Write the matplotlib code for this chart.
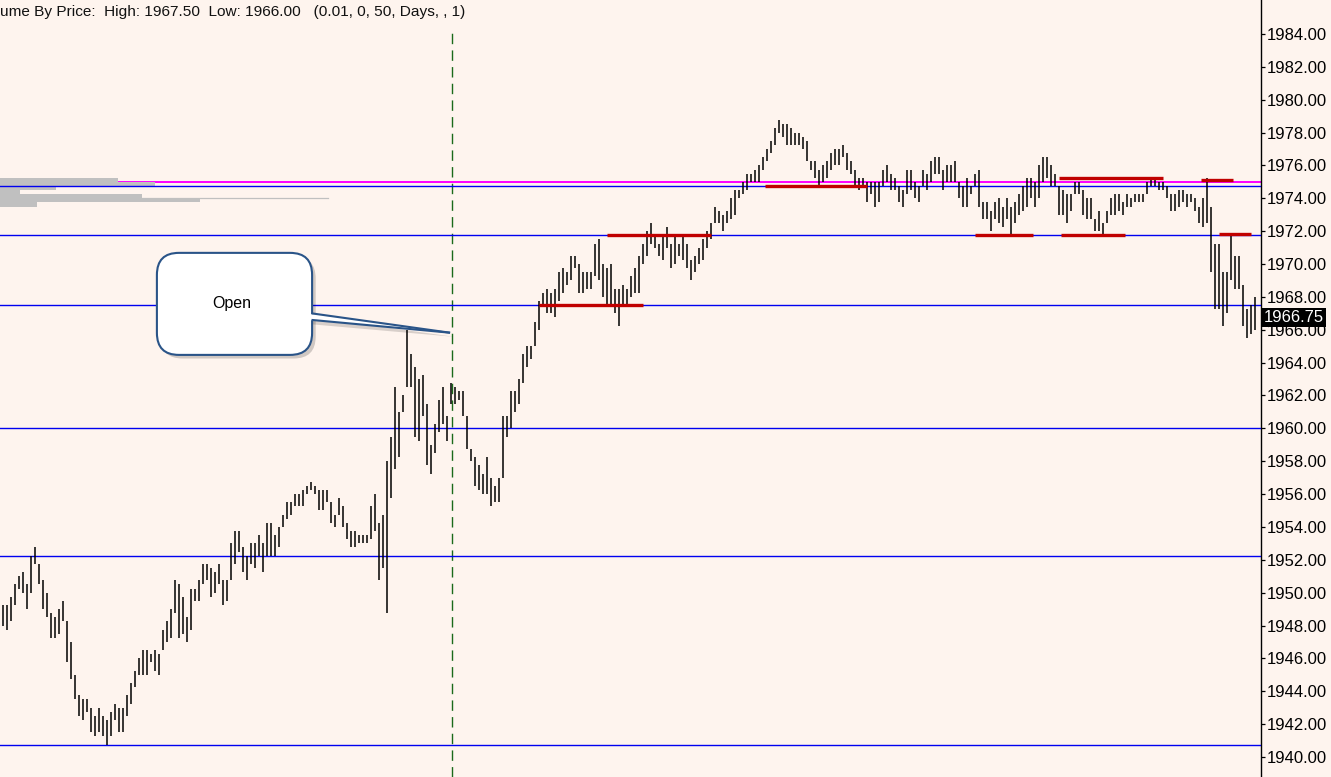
import numpy as np
import matplotlib
matplotlib.use('Agg')
import matplotlib.pyplot as plt
from matplotlib.patches import FancyBboxPatch, Polygon, Rectangle

plt.rcParams['font.family'] = ['Liberation Sans', 'DejaVu Sans']

# ---- price bars (high / low), one per bar, left to right ----
highs = [
    1949.25, 1949.25, 1949.75, 1950.50, 1951.00, 1951.25, 1950.50, 1952.25, 1952.75, 1951.75,
    1950.75, 1950.00, 1948.75, 1948.50, 1949.00, 1949.50, 1948.25, 1947.00, 1945.00, 1943.75,
    1943.50, 1943.50, 1943.00, 1942.50, 1943.00, 1942.50, 1942.25, 1942.75, 1943.25, 1943.00,
    1943.00, 1943.75, 1944.50, 1945.25, 1946.00, 1946.50, 1946.50, 1946.25, 1946.50, 1946.25,
    1947.75, 1948.25, 1949.00, 1950.75, 1950.50, 1949.75, 1948.50, 1950.25, 1950.25, 1950.75,
    1951.75, 1951.75, 1951.50, 1951.25, 1951.75, 1950.75, 1950.75, 1953.00, 1953.75, 1953.75,
    1952.75, 1952.25, 1953.00, 1953.00, 1953.50, 1953.00, 1954.25, 1954.25, 1953.50, 1954.00,
    1954.75, 1955.50, 1955.50, 1956.00, 1956.00, 1956.25, 1956.50, 1956.75, 1956.50, 1956.25,
    1956.25, 1956.25, 1955.50, 1954.75, 1955.75, 1955.25, 1954.25, 1953.75, 1953.75, 1953.50,
    1953.50, 1953.50, 1955.25, 1956.00, 1954.25, 1954.75, 1958.00, 1959.50, 1962.50, 1961.00,
    1962.00, 1966.00, 1964.50, 1963.75, 1963.00, 1963.25, 1961.50, 1959.00, 1960.25, 1961.75,
    1962.50, 1960.75, 1962.75, 1962.50, 1962.25, 1962.25, 1960.75, 1958.75, 1958.25, 1957.75,
    1957.25, 1958.25, 1957.00, 1956.50, 1957.00, 1960.75, 1960.75, 1962.25, 1962.25, 1963.00,
    1964.50, 1965.00, 1965.00, 1966.50, 1967.75, 1968.25, 1968.50, 1968.25, 1968.50, 1969.50,
    1969.75, 1969.50, 1970.50, 1970.50, 1970.00, 1969.50, 1969.50, 1969.50, 1971.25, 1971.50,
    1970.00, 1969.75, 1970.00, 1968.50, 1968.50, 1968.75, 1968.50, 1969.25, 1969.75, 1970.50,
    1971.25, 1972.00, 1972.50, 1971.75, 1971.25, 1971.75, 1972.25, 1971.25, 1971.75, 1971.25,
    1971.75, 1971.25, 1970.25, 1970.50, 1971.00, 1971.50, 1972.00, 1972.50, 1973.50, 1973.25,
    1973.00, 1973.25, 1974.00, 1974.50, 1974.50, 1975.00, 1975.50, 1975.50, 1975.75, 1976.00,
    1976.50, 1977.00, 1977.50, 1978.25, 1978.75, 1978.50, 1978.50, 1978.25, 1978.00, 1978.00,
    1977.75, 1977.50, 1976.25, 1976.25, 1975.75, 1976.00, 1976.25, 1976.75, 1977.00, 1977.00,
    1977.25, 1976.75, 1976.25, 1975.75, 1975.25, 1975.25, 1975.00, 1975.00, 1975.00, 1975.00,
    1975.75, 1976.00, 1975.50, 1975.25, 1974.75, 1974.50, 1975.75, 1975.75, 1975.00, 1974.75,
    1975.75, 1975.50, 1976.25, 1976.50, 1976.50, 1975.75, 1976.00, 1976.00, 1976.25, 1975.00,
    1974.75, 1975.25, 1974.75, 1975.50, 1975.75, 1973.75, 1973.75, 1973.25, 1973.75, 1974.00,
    1973.50, 1974.00, 1973.50, 1973.75, 1974.25, 1974.75, 1975.25, 1975.25, 1975.00, 1976.00,
    1976.50, 1976.50, 1976.00, 1975.50, 1974.75, 1974.50, 1974.25, 1974.25, 1975.00, 1975.00,
    1974.50, 1974.00, 1974.00, 1972.75, 1973.25, 1972.50, 1973.25, 1974.00, 1974.25, 1974.25,
    1973.75, 1974.25, 1974.00, 1974.25, 1974.25, 1974.25, 1975.00, 1975.25, 1975.25, 1975.00,
    1975.00, 1974.75, 1974.25, 1974.25, 1974.50, 1974.50, 1974.25, 1974.25, 1974.00, 1973.50,
    1974.00, 1975.25, 1973.50, 1971.25, 1971.25, 1969.50, 1969.50, 1971.75, 1970.50, 1970.50,
    1968.75, 1967.25, 1967.50, 1968.00,
]
lows = [
    1948.00, 1947.75, 1948.25, 1949.25, 1950.25, 1950.00, 1949.00, 1950.00, 1951.75, 1950.50,
    1949.00, 1948.50, 1947.25, 1947.25, 1947.50, 1948.25, 1945.75, 1944.75, 1943.50, 1942.50,
    1942.25, 1942.75, 1941.50, 1941.25, 1941.50, 1941.25, 1940.75, 1941.25, 1942.25, 1941.50,
    1941.50, 1942.50, 1943.25, 1944.25, 1945.00, 1945.00, 1945.00, 1945.75, 1945.25, 1945.00,
    1946.50, 1947.00, 1947.25, 1948.75, 1947.25, 1947.50, 1947.00, 1947.75, 1949.50, 1949.50,
    1950.50, 1950.75, 1949.75, 1950.00, 1950.50, 1949.25, 1949.50, 1950.75, 1951.75, 1952.50,
    1951.25, 1950.75, 1951.75, 1951.50, 1952.25, 1951.25, 1952.25, 1952.25, 1952.25, 1952.75,
    1954.00, 1954.50, 1954.75, 1955.25, 1955.25, 1955.25, 1956.00, 1956.25, 1956.00, 1955.00,
    1955.00, 1955.50, 1954.25, 1954.00, 1954.75, 1954.00, 1953.25, 1952.75, 1952.75, 1953.00,
    1953.00, 1953.00, 1953.25, 1953.75, 1950.75, 1951.50, 1948.75, 1955.75, 1957.50, 1958.25,
    1961.00, 1962.50, 1962.50, 1959.50, 1959.25, 1960.75, 1957.75, 1957.25, 1958.50, 1959.75,
    1960.25, 1959.25, 1961.50, 1961.50, 1961.75, 1960.75, 1958.75, 1958.00, 1956.50, 1956.25,
    1956.00, 1956.00, 1955.25, 1955.50, 1955.50, 1957.00, 1959.50, 1960.00, 1961.00, 1961.50,
    1962.75, 1963.75, 1964.25, 1965.00, 1966.00, 1967.50, 1967.00, 1967.00, 1966.75, 1967.75,
    1968.25, 1968.75, 1969.00, 1969.75, 1968.25, 1968.25, 1968.50, 1968.50, 1969.25, 1969.00,
    1968.00, 1967.50, 1967.50, 1967.00, 1966.25, 1967.50, 1967.50, 1968.00, 1968.25, 1968.25,
    1970.00, 1970.50, 1971.25, 1971.00, 1970.50, 1970.25, 1971.00, 1969.75, 1970.00, 1970.50,
    1970.25, 1969.75, 1969.00, 1969.50, 1970.00, 1970.25, 1971.00, 1971.50, 1972.50, 1972.50,
    1972.00, 1972.50, 1972.75, 1973.00, 1974.00, 1974.25, 1974.50, 1975.00, 1975.00, 1975.00,
    1975.75, 1976.25, 1976.75, 1977.25, 1978.00, 1977.75, 1977.25, 1977.25, 1977.25, 1977.25,
    1977.00, 1976.25, 1975.75, 1975.25, 1974.75, 1975.00, 1975.25, 1975.75, 1976.00, 1976.00,
    1976.50, 1975.75, 1975.50, 1974.75, 1974.50, 1974.75, 1973.75, 1974.25, 1973.50, 1973.75,
    1974.75, 1975.00, 1974.50, 1974.50, 1973.75, 1973.50, 1974.25, 1974.50, 1974.00, 1973.75,
    1974.75, 1974.50, 1975.00, 1975.50, 1975.50, 1974.50, 1975.00, 1975.00, 1975.00, 1974.00,
    1973.50, 1973.50, 1974.25, 1974.75, 1973.50, 1972.75, 1972.75, 1972.00, 1972.75, 1972.50,
    1972.25, 1972.75, 1971.75, 1972.50, 1973.00, 1973.25, 1973.50, 1974.00, 1973.50, 1974.00,
    1975.00, 1975.25, 1974.75, 1974.75, 1973.00, 1973.00, 1972.50, 1973.25, 1974.25, 1974.25,
    1973.00, 1972.75, 1972.75, 1972.00, 1972.00, 1971.75, 1972.50, 1973.00, 1973.00, 1973.25,
    1973.00, 1973.50, 1973.50, 1973.75, 1973.75, 1973.75, 1974.25, 1974.75, 1974.75, 1974.50,
    1974.50, 1974.00, 1973.25, 1973.25, 1973.50, 1973.75, 1973.50, 1973.75, 1973.25, 1972.50,
    1972.25, 1972.50, 1969.50, 1967.25, 1967.25, 1966.25, 1967.00, 1969.00, 1968.50, 1968.50,
    1966.25, 1965.50, 1965.75, 1966.00,
]

# horizontal levels
blue_levels = [1940.75, 1952.25, 1960.00, 1967.50, 1971.75, 1974.75]
magenta_level = 1975.0

# red high/low markers: level, first bar, last bar
red_levels = [1967.50, 1971.75, 1974.75, 1971.75, 1971.75, 1975.25, 1975.10, 1971.80]
red_start = [134, 151, 190.5, 243, 264.5, 264, 299.5, 304]
red_end = [160, 177, 216, 257.5, 280.5, 290, 307.5, 312]

# volume by price profile (bins of 0.25)
profile_prices = [1975.00, 1974.75, 1974.50, 1974.25, 1974.00, 1973.75, 1973.50]
profile_volume = [118, 155, 56, 20, 142, 201, 37]

session_start = 112.2
last_price = 1966.75
yticks = np.arange(1940, 1985, 2)

title_text = 'ume By Price:  High: 1967.50  Low: 1966.00   (0.01, 0, 50, Days, , 1)'

bg = '#FEF4EE'
W, H = 1331, 777
fig = plt.figure(figsize=(W / 100, H / 100), dpi=100, facecolor=bg)
ax = fig.add_axes([0, 0, 1261 / W, 1])
ax.set_facecolor(bg)

x = np.arange(len(highs))
ax.set_xlim(-3.3 / 4, (1261 - 3.3) / 4)
ax.set_ylim(1938.78, 1986.07)

# level lines
for lv in blue_levels:
    ax.axhline(lv, color='#0000F0', lw=1.0, zorder=3)
ax.axhline(magenta_level, color='#FF00FF', lw=1.4, zorder=1)

# volume profile (drawn from the left edge, width in axes fraction)
ytr = ax.get_yaxis_transform()
vmax = max(profile_volume)
for p, v in zip(profile_prices, profile_volume):
    ax.add_patch(Rectangle((0, p), v / vmax * 0.159, 0.25, transform=ytr,
                           fc='#C0C0C0', ec='none', zorder=2))
ax.plot([0, 0.26], [1974.0, 1974.0], transform=ytr, color='#C0C0C0', lw=0.9, zorder=2)

# session start
ax.axvline(session_start, ymax=1 - 27 / H, color='#1A6A1A', lw=1.0,
           ls=(0, (7.5, 4.5)), zorder=2)

# price bars
ax.vlines(x, lows, highs, color='black', lw=1.1, zorder=4)

# red markers
ax.hlines(red_levels, red_start, red_end, color='#C00000', lw=2.4, zorder=5)

# callout "Open"
asp = 4 / 16.43
bx, by, bw, bh = 38.4, 1964.47, 38.8, 6.21
tip = (111.7, 1965.82)
ax.add_patch(FancyBboxPatch((bx + 0.9, by - 0.22), bw, bh,
                            boxstyle='round,pad=0,rounding_size=5.5', mutation_aspect=asp,
                            fc='black', ec='none', alpha=0.18, zorder=6))
ax.add_patch(Polygon([(bx + bw - 1, 1967.0 - 0.2), (tip[0] + 1, tip[1] - 0.25),
                      (bx + bw - 1, 1966.6 - 0.25)], closed=True,
                     fc='black', ec='none', alpha=0.15, zorder=6))
ax.add_patch(FancyBboxPatch((bx, by), bw, bh,
                            boxstyle='round,pad=0,rounding_size=5.5', mutation_aspect=asp,
                            fc='white', ec='#2A5488', lw=1.5, zorder=7))
ax.add_patch(Polygon([(bx + bw - 1.5, 1967.0), tip, (bx + bw - 1.5, 1966.6)], closed=True,
                     fc='white', ec='none', zorder=8))
ax.plot([bx + bw - 0.15, tip[0]], [1967.0, tip[1]], color='#2A5488', lw=1.5, zorder=9,
        solid_capstyle='butt')
ax.plot([bx + bw - 0.15, tip[0]], [1966.6, tip[1]], color='#2A5488', lw=1.5, zorder=9,
        solid_capstyle='butt')
ax.text(bx + bw / 2 - 0.6, by + bh / 2 + 0.05, 'Open', ha='center', va='center', fontsize=11.5,
        color='black', zorder=10)

# axis
for s in ['top', 'left', 'bottom']:
    ax.spines[s].set_visible(False)
ax.spines['right'].set_linewidth(1.0)
ax.set_xticks([])
ax.yaxis.tick_right()
ax.set_yticks(yticks)
ax.set_yticklabels(['%.2f' % v for v in yticks])
ax.tick_params(axis='y', length=3, width=0.9, pad=1.5, labelsize=12, colors='black')

ax.text(1 + 3 / 1261, last_price, '%.2f' % last_price, transform=ytr, ha='left', va='center',
        fontsize=12, color='white', clip_on=False, zorder=11,
        bbox=dict(boxstyle='square,pad=0.12', fc='black', ec='none'))

fig.text(0, 1 - 12 / H, title_text, ha='left', va='center', fontsize=11.1, color='#111111')

fig.savefig('out.png', dpi=100, facecolor=bg)
